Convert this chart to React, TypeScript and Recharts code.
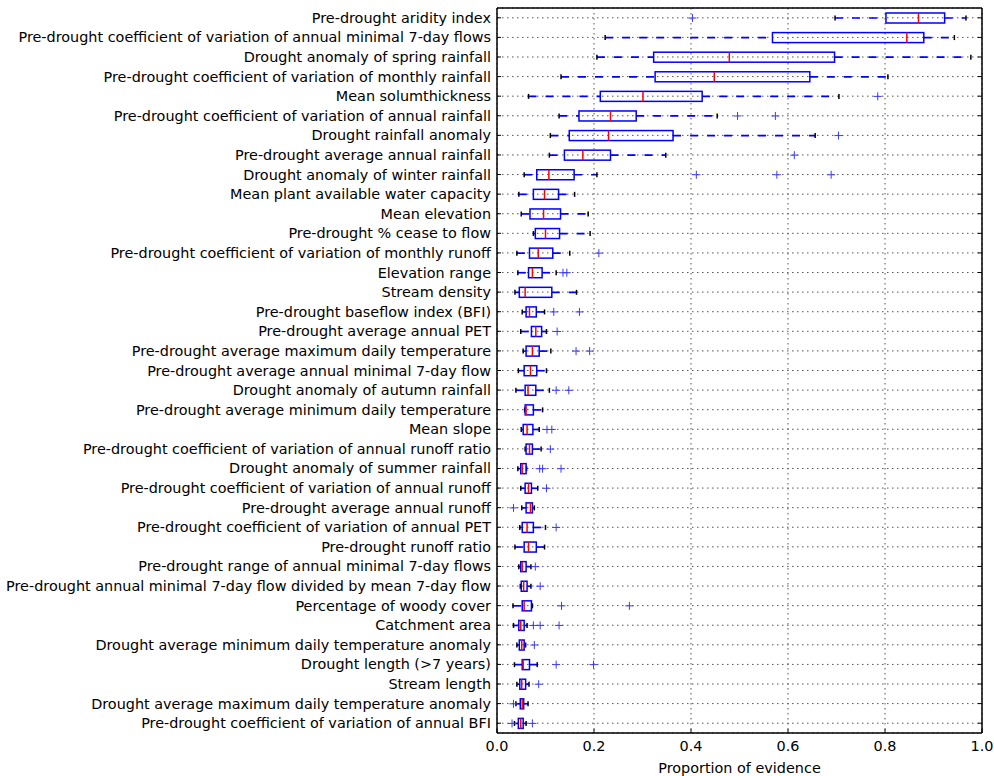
import React from "react";
import { BarChart, Bar, XAxis, YAxis, CartesianGrid } from "recharts";

const categories = [
  "Pre-drought aridity index",
  "Pre-drought coefficient of variation of annual minimal 7-day flows",
  "Drought anomaly of spring rainfall",
  "Pre-drought coefficient of variation of monthly rainfall",
  "Mean solumthickness",
  "Pre-drought coefficient of variation of annual rainfall",
  "Drought rainfall anomaly",
  "Pre-drought average annual rainfall",
  "Drought anomaly of winter rainfall",
  "Mean plant available water capacity",
  "Mean elevation",
  "Pre-drought % cease to flow",
  "Pre-drought coefficient of variation of monthly runoff",
  "Elevation range",
  "Stream density",
  "Pre-drought baseflow index (BFI)",
  "Pre-drought average annual PET",
  "Pre-drought average maximum daily temperature",
  "Pre-drought average annual minimal 7-day flow",
  "Drought anomaly of autumn rainfall",
  "Pre-drought average minimum daily temperature",
  "Mean slope",
  "Pre-drought coefficient of variation of annual runoff ratio",
  "Drought anomaly of summer rainfall",
  "Pre-drought coefficient of variation of annual runoff",
  "Pre-drought average annual runoff",
  "Pre-drought coefficient of variation of annual PET",
  "Pre-drought runoff ratio",
  "Pre-drought range of annual minimal 7-day flows",
  "Pre-drought annual minimal 7-day flow divided by mean 7-day flow",
  "Percentage of woody cover",
  "Catchment area",
  "Drought average minimum daily temperature anomaly",
  "Drought length (>7 years)",
  "Stream length",
  "Drought average maximum daily temperature anomaly",
  "Pre-drought coefficient of variation of annual BFI",
];

const whiskerLow = [
  0.697, 0.223, 0.206, 0.132, 0.065, 0.128, 0.110, 0.108, 0.056, 0.045,
  0.050, 0.075, 0.041, 0.043, 0.037, 0.052, 0.049, 0.054, 0.044, 0.039,
  0.057, 0.050, 0.058, 0.043, 0.049, 0.051, 0.047, 0.037, 0.045, 0.048,
  0.033, 0.034, 0.041, 0.036, 0.041, 0.039, 0.036,
];
const quartile1 = [
  0.802, 0.568, 0.323, 0.326, 0.213, 0.169, 0.149, 0.139, 0.082, 0.075,
  0.068, 0.079, 0.067, 0.065, 0.046, 0.060, 0.071, 0.060, 0.056, 0.058,
  0.058, 0.054, 0.060, 0.049, 0.058, 0.060, 0.052, 0.056, 0.049, 0.050,
  0.052, 0.045, 0.046, 0.052, 0.047, 0.048, 0.044,
];
const medians = [
  0.869, 0.845, 0.479, 0.448, 0.301, 0.234, 0.230, 0.177, 0.107, 0.098,
  0.096, 0.100, 0.085, 0.073, 0.058, 0.067, 0.080, 0.073, 0.069, 0.064,
  0.060, 0.062, 0.067, 0.052, 0.065, 0.069, 0.062, 0.065, 0.052, 0.055,
  0.056, 0.049, 0.051, 0.054, 0.051, 0.052, 0.049,
];
const quartile3 = [
  0.923, 0.880, 0.696, 0.645, 0.423, 0.287, 0.363, 0.234, 0.159, 0.127,
  0.131, 0.129, 0.115, 0.093, 0.113, 0.081, 0.092, 0.087, 0.082, 0.080,
  0.075, 0.074, 0.073, 0.060, 0.071, 0.073, 0.075, 0.081, 0.060, 0.062,
  0.071, 0.056, 0.056, 0.067, 0.059, 0.055, 0.054,
];
const whiskerHigh = [
  0.967, 0.943, 0.977, 0.806, 0.705, 0.454, 0.656, 0.348, 0.206, 0.160,
  0.188, 0.192, 0.150, 0.122, 0.164, 0.098, 0.102, 0.111, 0.102, 0.108,
  0.094, 0.087, 0.091, 0.061, 0.084, 0.077, 0.100, 0.098, 0.070, 0.070,
  0.073, 0.062, 0.059, 0.083, 0.066, 0.064, 0.060,
];
const outliers: number[][] = [
  [0.403], [], [], [], [0.785], [0.496, 0.574], [0.704], [0.613],
  [0.411, 0.577, 0.689], [], [], [], [0.21], [0.136, 0.144], [],
  [0.117, 0.17], [0.124], [0.163, 0.191], [], [0.122, 0.148], [],
  [0.103, 0.113], [0.11], [0.088, 0.094, 0.132], [0.102], [0.034],
  [0.122], [], [0.079], [0.089], [0.133, 0.273], [0.075, 0.089, 0.128],
  [0.077], [0.122, 0.199], [0.086], [0.034], [0.031, 0.073],
];
const xTicks = [0, 0.2, 0.4, 0.6, 0.8, 1.0];

const data = categories.map((name, i) => ({
  name,
  range: [Math.min(whiskerLow[i], ...outliers[i]), Math.max(whiskerHigh[i], ...outliers[i])],
  lo: whiskerLow[i],
  q1: quartile1[i],
  med: medians[i],
  q3: quartile3[i],
  hi: whiskerHigh[i],
  out: outliers[i],
}));

const FONT = "DejaVu Sans";
const FS = 14.4;
const BLUE = "#0000ff";

const BoxShape = (props: any) => {
  const { x, y, width, height, payload } = props;
  const [a, b] = payload.range;
  const px = (v: number) => x + ((v - a) / (b - a)) * width;
  const cy = y + height / 2;
  const capH = height / 4;
  return (
    <g>
      <line x1={px(payload.lo)} y1={cy} x2={px(payload.q1)} y2={cy} stroke={BLUE} strokeWidth={1.7} strokeDasharray="8 9" />
      <line x1={px(payload.q3)} y1={cy} x2={px(payload.hi)} y2={cy} stroke={BLUE} strokeWidth={1.7} strokeDasharray="8 9" />
      <line x1={px(payload.lo)} y1={cy - capH} x2={px(payload.lo)} y2={cy + capH} stroke="#000" strokeWidth={1.5} />
      <line x1={px(payload.hi)} y1={cy - capH} x2={px(payload.hi)} y2={cy + capH} stroke="#000" strokeWidth={1.5} />
      <rect x={px(payload.q1)} y={y} width={px(payload.q3) - px(payload.q1)} height={height} fill="none" stroke={BLUE} strokeWidth={1.5} />
      <line x1={px(payload.med)} y1={y} x2={px(payload.med)} y2={y + height} stroke="#ff0000" strokeWidth={1.5} />
      {payload.out.map((o: number, k: number) => (
        <g key={k} stroke="#3a3aff" strokeWidth={1}>
          <line x1={px(o) - 4} y1={cy} x2={px(o) + 4} y2={cy} />
          <line x1={px(o)} y1={cy - 4} x2={px(o)} y2={cy + 4} />
        </g>
      ))}
    </g>
  );
};

const LeftTick = (props: any) => {
  const { x, y, payload } = props;
  return (
    <g>
      <line x1={x} y1={y} x2={x + 4} y2={y} stroke="#000" strokeWidth={1} />
      <text x={x - 6} y={y} textAnchor="end" dominantBaseline="central" fontFamily={FONT} fontSize={FS} fill="#000">
        {payload.value}
      </text>
    </g>
  );
};

const RightTick = (props: any) => {
  const { x, y } = props;
  return <line x1={x} y1={y} x2={x - 4} y2={y} stroke="#000" strokeWidth={1} />;
};

const BottomTick = (props: any) => {
  const { x, y, payload } = props;
  return (
    <g>
      <line x1={x} y1={y} x2={x} y2={y - 4} stroke="#000" strokeWidth={1} />
      <text x={x} y={y + 13} textAnchor="middle" dominantBaseline="central" fontFamily={FONT} fontSize={FS} fill="#000">
        {Number(payload.value).toFixed(1)}
      </text>
    </g>
  );
};

const TopTick = (props: any) => {
  const { x, y } = props;
  return <line x1={x} y1={y} x2={x} y2={y + 4} stroke="#000" strokeWidth={1} />;
};

export default function App() {
  return (
    <div style={{ position: "absolute", left: 0, top: 0, background: "#fff" }}>
      <BarChart
        layout="vertical"
        width={994}
        height={776}
        data={data}
        margin={{ top: 7, right: 0, bottom: 0, left: 0 }}
      >
        <CartesianGrid stroke="#555" strokeDasharray="1.5 3.5" strokeWidth={1} />
        <XAxis
          type="number"
          domain={[0, 1]}
          ticks={xTicks}
          height={43}
          tickSize={0}
          tickMargin={0}
          tickLine={false}
          axisLine={{ stroke: "#000", strokeWidth: 1.5 }}
          tick={<BottomTick />}
          interval={0}
          label={{ value: "Proportion of evidence", position: "insideBottom", offset: 3, fontFamily: FONT, fontSize: FS, fill: "#000" }}
        />
        <XAxis
          xAxisId="top"
          orientation="top"
          type="number"
          domain={[0, 1]}
          ticks={xTicks}
          height={1}
          tickSize={0}
          tickMargin={0}
          tickLine={false}
          axisLine={{ stroke: "#000", strokeWidth: 1.5 }}
          tick={<TopTick />}
          interval={0}
        />
        <YAxis
          type="category"
          dataKey="name"
          width={497}
          tickSize={0}
          tickMargin={0}
          tickLine={false}
          interval={0}
          axisLine={{ stroke: "#000", strokeWidth: 1.5 }}
          tick={<LeftTick />}
        />
        <YAxis
          yAxisId="right"
          orientation="right"
          type="category"
          dataKey="name"
          width={12}
          tickSize={0}
          tickMargin={0}
          tickLine={false}
          interval={0}
          axisLine={{ stroke: "#000", strokeWidth: 1.5 }}
          tick={<RightTick />}
        />
        <Bar dataKey="range" barSize={10} shape={(p: any) => <BoxShape {...p} />} isAnimationActive={false} />
      </BarChart>
    </div>
  );
}
